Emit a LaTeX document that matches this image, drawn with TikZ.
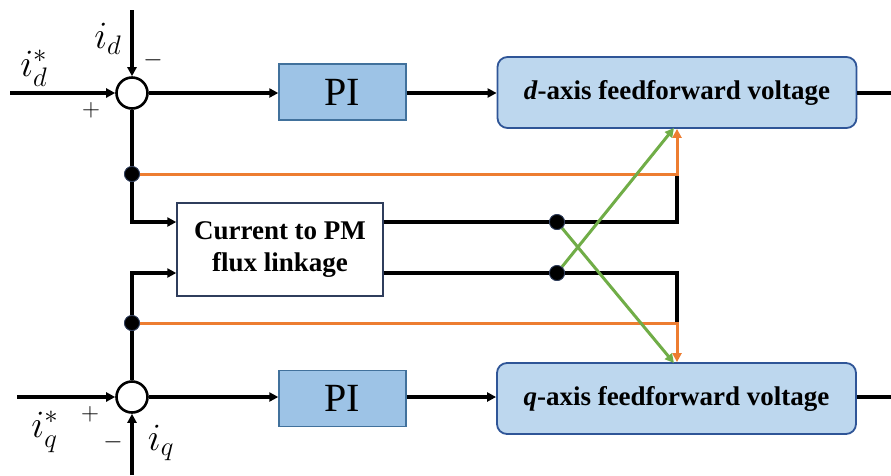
\documentclass[tikz,border=0pt]{standalone}
\usepackage{graphicx}
\usepackage{fontspec}
\setmainfont{Liberation Serif}
\usetikzlibrary{arrows.meta}
\definecolor{pifill}{HTML}{9DC3E6}
\definecolor{piedge}{HTML}{41719C}
\definecolor{fffill}{HTML}{BDD7EE}
\definecolor{ffedge}{HTML}{2F5597}
\definecolor{cpedge}{HTML}{2F3D5C}
\definecolor{fforange}{HTML}{ED7D31}
\definecolor{crossgreen}{HTML}{70AD47}
\newcommand{\biglabel}[1]{\scalebox{1.55}{$#1$}}
\tikzset{
  sig/.style={line width=3.1pt, black},
  arr/.style={sig, -{Triangle[length=9pt,width=9pt]}},
  orangeline/.style={line width=3pt, fforange},
  orangearr/.style={orangeline, -{Triangle[length=9pt,width=9pt]}},
  greenarr/.style={line width=3pt, crossgreen, -{Triangle[length=9pt,width=9pt]}},
  sumc/.style={circle, draw, line width=2.6pt, fill=white, minimum size=31pt, inner sep=0pt},
  pibox/.style={draw=piedge, line width=1.4pt, fill=pifill, minimum width=127pt, minimum height=56pt, inner sep=0pt, font=\fontsize{40}{40}\selectfont},
  ffbox/.style={draw=ffedge, line width=1.8pt, fill=fffill, rounded corners=10pt, minimum width=359pt, minimum height=71pt, inner sep=0pt, font=\fontsize{27}{27}\selectfont\bfseries},
  cpbox/.style={draw=cpedge, line width=1.4pt, fill=white, minimum width=206pt, minimum height=93pt, inner sep=0pt, align=center, font=\fontsize{27}{32}\selectfont\bfseries},
  jdot/.style={circle, fill=black, draw=cpedge, line width=0.8pt, minimum size=15pt, inner sep=0pt},
  mlabel/.style={inner sep=0pt, font=\fontsize{24}{24}\selectfont},
  slabel/.style={inner sep=0pt, font=\fontsize{26}{26}\selectfont},
}
\begin{document}
\begin{tikzpicture}[x=1pt, y=-1pt]
\useasboundingbox (0,0) rectangle (891,475);

% summing junctions
\node[sumc] (s1) at (132,93) {};
\node[sumc] (s2) at (132,397) {};

% controller blocks
\node[pibox] (pi1) at (342.5,92) {PI};
\node[pibox] (pi2) at (342.5,398.5) {PI};
\node[ffbox] (ffd) at (677,92.5) {\textit{d}-axis feedforward voltage};
\node[ffbox] (ffq) at (676.5,398.5) {\textit{q}-axis feedforward voltage};
\node[cpbox] (cpm) at (280,249.5) {Current to PM\\flux linkage};

% branch points
\node[jdot] (dd) at (132,174) {};
\node[jdot] (dq) at (132,323) {};
\node[jdot] (j1) at (557,222) {};
\node[jdot] (j2) at (557,273) {};

% free ends and corners
\coordinate (idin) at (10,93);
\coordinate (idtop) at (132,10);
\coordinate (iqin) at (17,397);
\coordinate (iqbot) at (132,475);
\coordinate (outd) at (891,93);
\coordinate (outq) at (891,397);
\coordinate (ru) at (677,174);
\coordinate (rl) at (677,323);
\coordinate (gd) at (674,128);
\coordinate (gq) at (674,363);

% d-axis path
\draw[arr] (idin) -- (s1.west);
\draw[arr] (idtop) -- (s1.north);
\draw[arr] (s1.east) -- (pi1.west |- s1.east);
\draw[arr] (pi1.east |- s1.east) -- (ffd.west |- s1.east);
\draw[sig] (ffd.east |- outd) -- (outd);

% q-axis path
\draw[arr] (iqin) -- (s2.west);
\draw[arr] (iqbot) -- (s2.south);
\draw[arr] (s2.east) -- (pi2.west |- s2.east);
\draw[arr] (pi2.east |- s2.east) -- (ffq.west |- s2.east);
\draw[sig] (ffq.east |- outq) -- (outq);

% error signals to the flux linkage block
\draw[sig] (s1.south) -- (dd);
\draw[arr] (dd) |- (cpm.west |- j1);
\draw[sig] (s2.north) -- (dq);
\draw[arr] (dq) |- (cpm.west |- j2);

% flux linkage outputs
\draw[sig] (cpm.east |- j1) -- (j1) -| (ru);
\draw[sig] (cpm.east |- j2) -- (j2) -| (rl);

% current feedforward paths
\draw[orangearr] (dd) -- (ru) -- (ffd.south -| ru);
\draw[orangearr] (dq) -- (rl) -- (ffq.north -| rl);

% cross-coupling paths
\draw[greenarr] (j2) -- (gd);
\draw[greenarr] (j1) -- (gq);
\node[jdot] at (j1) {};
\node[jdot] at (j2) {};
\node[jdot] at (dd) {};
\node[jdot] at (dq) {};

% labels
\node[mlabel] (lidr) at (34,68) {\biglabel{i_d^*}};
\node[mlabel] (lid) at (108,39) {\biglabel{i_d}};
\node[slabel] (mid) at (153,60) {$-$};
\node[slabel] (pid) at (91,110) {$+$};
\node[mlabel] (liqr) at (45,432) {\biglabel{i_q^*}};
\node[mlabel] (liq) at (161,443) {\biglabel{i_q}};
\node[slabel] (miq) at (113,442) {$-$};
\node[slabel] (piq) at (90,414) {$+$};
\end{tikzpicture}
\end{document}
